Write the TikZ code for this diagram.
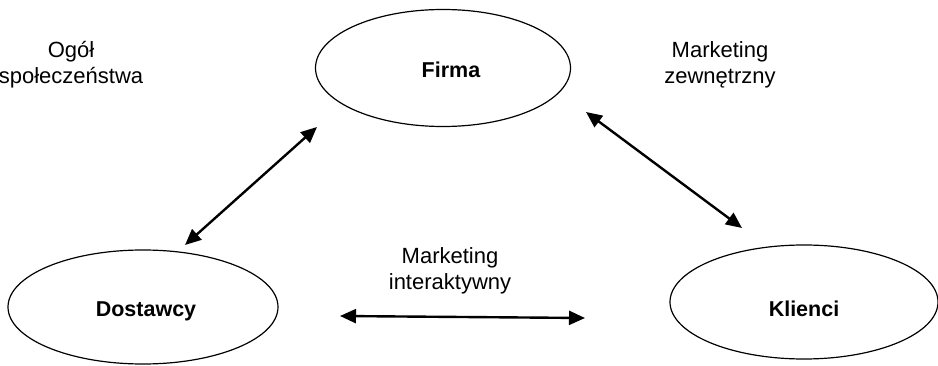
\documentclass[tikz,border=0pt]{standalone}
\usepackage{fontspec}
\setmainfont{Liberation Sans}
\usetikzlibrary{shapes.geometric,arrows.meta}
\begin{document}
\begin{tikzpicture}[x=1pt,y=-1pt,
  oval/.style={draw=black,line width=1.2pt,ellipse,inner sep=0pt},
  caption/.style={font=\fontsize{22}{26}\selectfont,align=center,inner sep=0pt},
  title/.style={font=\fontsize{21.5}{25}\selectfont\bfseries,inner sep=0pt,anchor=base},
  link/.style={line width=2.4pt,{Triangle[length=16pt,width=14pt]}-{Triangle[length=16pt,width=14pt]}}]
  \useasboundingbox (0,0) rectangle (938,366);

  % the three parties
  \node[oval,minimum width=255pt,minimum height=117pt] (firma) at (443,68) {};
  \node[oval,minimum width=270pt,minimum height=114pt] (dostawcy) at (143,307) {};
  \node[oval,minimum width=268pt,minimum height=114pt] (klienci) at (804,302) {};
  \node[title] (firmaT) at (451,78) {Firma};
  \node[title] (dostawcyT) at (146,317) {Dostawcy};
  \node[title] (klienciT) at (804,317) {Klienci};

  % free-standing captions
  \node[caption] (ogol) at (71,65) {Ogół\\społeczeństwa};
  \node[caption] (zewn) at (720,65) {Marketing\\zewnętrzny};
  \node[caption] (inter) at (450,271) {Marketing\\interaktywny};

  % arrow end points
  \coordinate (dF) at (317,127);
  \coordinate (dD) at (185,245);
  \coordinate (kF) at (586,112);
  \coordinate (kK) at (742,228);
  \coordinate (hD) at (340,316);
  \coordinate (hK) at (585,318);

  \draw[link] (dD) -- (dF);
  \draw[link] (kF) -- (kK);
  \draw[link] (hD) -- (hK);
\end{tikzpicture}
\end{document}
